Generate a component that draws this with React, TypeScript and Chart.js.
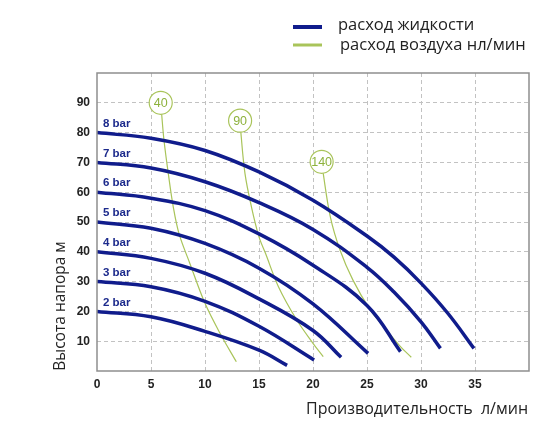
import React, { useEffect, useRef } from "react";
import { Chart, registerables } from "chart.js";

Chart.register(...registerables);

// ---- data ----
const barLabels = ["2 bar", "3 bar", "4 bar", "5 bar", "6 bar", "7 bar", "8 bar"];

const flow2 = [0, 5, 10, 15, 17.6];
const head2 = [20, 18.2, 13.3, 7, 1.9];
const flow3 = [0, 5, 10, 15, 20.1];
const head3 = [30, 28.3, 23.4, 15, 3.7];
const flow4 = [0, 5, 10, 15, 20, 22.6];
const head4 = [40, 37.8, 32.8, 24.2, 13.6, 4.6];
const flow5 = [0, 5, 10, 15, 20, 25.1];
const head5 = [50, 47.9, 42.8, 34.5, 22.5, 5.9];
const flow6 = [0, 5, 10, 15, 20, 25, 28.1];
const head6 = [60, 58, 53.8, 46, 35.5, 22, 6.5];
const flow7 = [0, 5, 10, 15, 20, 25, 27.5, 30, 31.8];
const head7 = [70, 68.1, 63.5, 56.5, 47.5, 34.8, 26.5, 16.5, 7.6];
const flow8 = [0, 5, 10, 15, 20, 25, 27.5, 30, 32.5, 34.9];
const head8 = [80, 78.1, 74, 66.8, 57.3, 45.3, 38.2, 29.5, 19.3, 7.6];

const airLabels = ["40", "90", "140"];
const air40Flow = [5.9, 5.98, 6.2, 6.6, 7.06, 7.6, 8.6, 10, 11.4, 12.9];
const air40Head = [90, 86.5, 77.5, 66.3, 55.1, 46, 36.1, 22.7, 12.6, 3.1];
const air90Flow = [13.25, 13.3, 13.7, 14.3, 15.0, 15.6, 16.8, 18.5, 20, 20.95];
const air90Head = [84, 80.9, 66.3, 55.1, 45, 39.5, 28.3, 17.1, 9.3, 4.8];
const air140Flow = [20.8, 20.9, 21.6, 22.5, 23.7, 25.3, 26.8, 28.1, 29.1];
const air140Head = [70.2, 67.4, 51.8, 40.6, 30.5, 20.5, 13.8, 8.2, 4.6];

const legendLabels = ["расход жидкости", "расход воздуха нл/мин"];
const xTitle = "Производительность  л/мин";
const yTitle = "Высота напора м";

const BLUE = "#101c8c";
const GREEN = "#a9c45a";
const GREEN_TEXT = "#8db23c";

const pumpFlows = [flow2, flow3, flow4, flow5, flow6, flow7, flow8];
const pumpHeads = [head2, head3, head4, head5, head6, head7, head8];
const airFlows = [air40Flow, air90Flow, air140Flow];
const airHeads = [air40Head, air90Head, air140Head];

const zip = (xs: number[], ys: number[]) => xs.map((x, i) => ({ x, y: ys[i] }));

const overlay = {
  id: "overlay",
  afterDatasetsDraw(chart: any) {
    const { ctx, chartArea, scales } = chart;
    const xs = scales.x;
    const ys = scales.y;
    ctx.save();
    // plot border
    ctx.strokeStyle = "#8e8e8e";
    ctx.lineWidth = 1.5;
    ctx.setLineDash([]);
    ctx.strokeRect(chartArea.left, chartArea.top, chartArea.right - chartArea.left, chartArea.bottom - chartArea.top);

    // bar labels
    ctx.fillStyle = "#1c2a8c";
    ctx.font = "bold 11.5px 'Liberation Sans', Arial, sans-serif";
    ctx.textAlign = "left";
    ctx.textBaseline = "middle";
    barLabels.forEach((lab, i) => {
      const px = xs.getPixelForValue(pumpFlows[i][0]) + 6;
      const py = ys.getPixelForValue(pumpHeads[i][0]) - 9;
      ctx.fillText(lab, px, py);
    });

    // air circles
    airLabels.forEach((lab, i) => {
      const cx = xs.getPixelForValue(airFlows[i][0]);
      const cy = ys.getPixelForValue(airHeads[i][0]);
      ctx.beginPath();
      ctx.arc(cx, cy, 11.5, 0, Math.PI * 2);
      ctx.fillStyle = "#ffffff";
      ctx.fill();
      ctx.strokeStyle = GREEN;
      ctx.lineWidth = 1.2;
      ctx.stroke();
      ctx.fillStyle = GREEN_TEXT;
      ctx.font = "12.5px 'Liberation Sans', Arial, sans-serif";
      ctx.textAlign = "center";
      ctx.textBaseline = "middle";
      ctx.fillText(lab, cx, cy + 0.5);
    });
    ctx.restore();
  },
  afterDraw(chart: any) {
    const { ctx, chartArea } = chart;
    ctx.save();
    // legend
    ctx.lineCap = "butt";
    ctx.strokeStyle = BLUE;
    ctx.lineWidth = 4;
    ctx.beginPath();
    ctx.moveTo(293, 27);
    ctx.lineTo(322, 27);
    ctx.stroke();
    ctx.strokeStyle = GREEN;
    ctx.lineWidth = 3;
    ctx.beginPath();
    ctx.moveTo(293, 45);
    ctx.lineTo(322, 45);
    ctx.stroke();
    ctx.fillStyle = "#222";
    ctx.font = "16.5px 'Open Sans', 'Noto Sans', sans-serif";
    ctx.textAlign = "left";
    ctx.textBaseline = "middle";
    ctx.fillText(legendLabels[0], 338, 25);
    ctx.fillText(legendLabels[1], 340, 45);

    // x title
    ctx.font = "16px 'Open Sans', 'Noto Sans', sans-serif";
    ctx.textAlign = "right";
    ctx.fillText(xTitle, chartArea.right - 1, 409);

    // y title
    ctx.font = "15.5px 'Open Sans', 'Noto Sans', sans-serif";
    ctx.translate(61, 306);
    ctx.rotate(-Math.PI / 2);
    ctx.textAlign = "center";
    ctx.fillText(yTitle, 0, 0);
    ctx.restore();
  },
};

export default function App() {
  const ref = useRef<HTMLCanvasElement | null>(null);

  useEffect(() => {
    document.body.style.margin = "0";
    if (!ref.current) return;
    const datasets: any[] = [];
    pumpFlows.forEach((f, i) => {
      datasets.push({
        label: barLabels[i],
        data: zip(f, pumpHeads[i]),
        borderColor: BLUE,
        borderWidth: 3.5,
        pointRadius: 0,
        fill: false,
        tension: 0.4,
      });
    });
    airFlows.forEach((f, i) => {
      datasets.push({
        label: airLabels[i],
        data: zip(f, airHeads[i]),
        borderColor: GREEN,
        borderWidth: 1.2,
        pointRadius: 0,
        fill: false,
        tension: 0.35,
      });
    });

    const tickFont = { size: 12, weight: "bold" as const, family: "'Liberation Sans', Arial, sans-serif" };
    const chart = new Chart(ref.current, {
      type: "line",
      data: { datasets },
      plugins: [overlay],
      options: {
        animation: false,
        responsive: false,
        maintainAspectRatio: false,
        layout: { padding: { left: 0, right: 31, top: 73, bottom: 0 } },
        plugins: {
          legend: { display: false },
          tooltip: { enabled: false },
          title: { display: false },
        },
        scales: {
          x: {
            type: "linear",
            min: 0,
            max: 40,
            afterFit: (s: any) => {
              s.height = 64;
            },
            ticks: {
              stepSize: 5,
              padding: 6,
              color: "#222",
              maxRotation: 0,
              autoSkip: false,
              font: tickFont,
              callback: (v: any) => (v === 40 ? "" : String(v)),
            },
            grid: {
              drawTicks: false,
              lineWidth: 1,
              color: (c: any) =>
                c.tick && (c.tick.value === 0 || c.tick.value === 40) ? "rgba(0,0,0,0)" : "#c2c2c2",
            },
            border: { display: false, dash: [4, 3] },
          },
          y: {
            type: "linear",
            min: 0,
            max: 100,
            afterFit: (s: any) => {
              s.width = 97;
            },
            ticks: {
              stepSize: 10,
              padding: 7,
              color: "#222",
              autoSkip: false,
              font: tickFont,
              callback: (v: any) => (v === 0 || v === 100 ? "" : String(v)),
            },
            grid: {
              drawTicks: false,
              lineWidth: 1,
              color: (c: any) =>
                c.tick && (c.tick.value === 0 || c.tick.value === 100) ? "rgba(0,0,0,0)" : "#c2c2c2",
            },
            border: { display: false, dash: [4, 3] },
          },
        },
      } as any,
    });
    return () => chart.destroy();
  }, []);

  return (
    <div style={{ position: "absolute", left: 0, top: 0, width: 560, height: 435, background: "#fff" }}>
      <canvas ref={ref} width={560} height={435} style={{ width: 560, height: 435 }} />
    </div>
  );
}
